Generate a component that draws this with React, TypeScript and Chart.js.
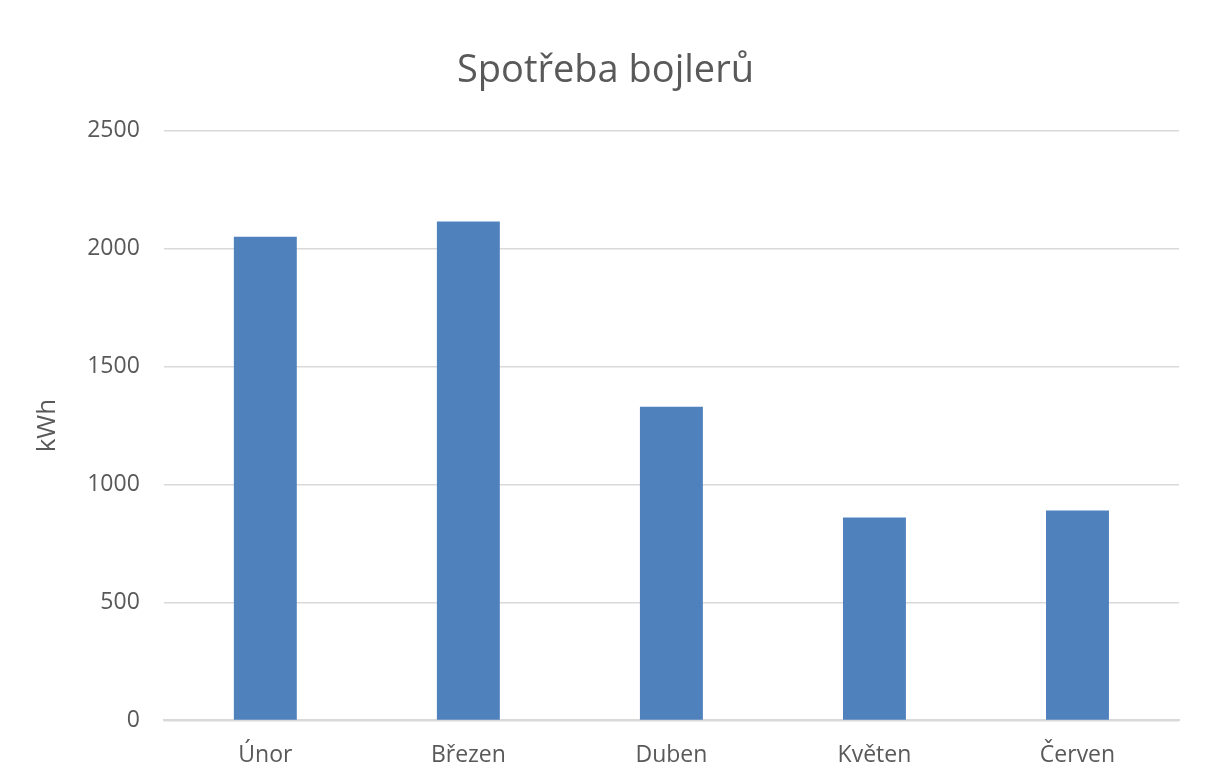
import { useEffect, useRef } from "react"
import { Chart, registerables } from "chart.js"

Chart.register(...registerables)

const months = ["Únor", "Březen", "Duben", "Květen", "Červen"]
const consumption = [2050, 2115, 1330, 860, 890]
const yTicks = [0, 500, 1000, 1500, 2000, 2500]

const textColor = "#595959"
const fontFamily = "'Open Sans', 'Noto Sans', sans-serif"

export default function App() {
  const canvasRef = useRef<HTMLCanvasElement>(null)

  useEffect(() => {
    document.body.style.margin = "0"
    if (!canvasRef.current) return
    const chart = new Chart(canvasRef.current, {
      type: "bar",
      data: {
        labels: months,
        datasets: [
          {
            label: "kWh",
            data: consumption,
            backgroundColor: "#4f81bd",
            barPercentage: 0.62,
            categoryPercentage: 0.5,
          },
        ],
      },
      options: {
        responsive: true,
        maintainAspectRatio: false,
        animation: false,
        layout: { padding: { left: 32, right: 27, top: 48, bottom: 0 } },
        plugins: {
          legend: { display: false },
          tooltip: { enabled: false },
          title: {
            display: true,
            text: "Spotřeba bojlerů",
            color: textColor,
            font: { family: fontFamily, size: 38, weight: "normal" },
            padding: { top: 0, bottom: 37 },
          },
        },
        scales: {
          x: {
            grid: { display: false },
            border: { color: "#d9d9d9", width: 2 },
            ticks: {
              color: textColor,
              font: { family: fontFamily, size: 23 },
              padding: 13,
            },
          },
          y: {
            min: 0,
            max: 2500,
            afterBuildTicks: (axis) => {
              axis.ticks = yTicks.map((v) => ({ value: v }))
            },
            grid: { color: "#d9d9d9", lineWidth: 1.5, drawTicks: false },
            border: { display: false },
            ticks: {
              color: textColor,
              font: { family: fontFamily, size: 23 },
              padding: 24,
              callback: (v) => String(v),
            },
            title: {
              display: true,
              text: "kWh",
              color: textColor,
              font: { family: fontFamily, size: 26 },
              padding: { top: 0, bottom: 0 },
            },
          },
        },
      },
    })
    return () => chart.destroy()
  }, [])

  return (
    <div style={{ width: 1206, height: 782, background: "#fff" }}>
      <canvas ref={canvasRef} />
    </div>
  )
}
